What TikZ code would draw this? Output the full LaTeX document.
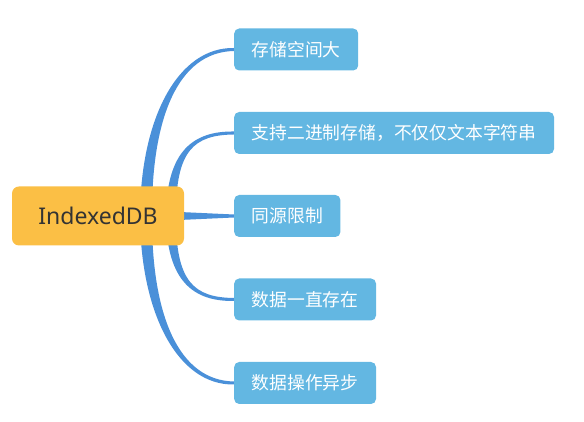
\documentclass[tikz,border=0pt]{standalone}
\usepackage{fontspec}
\usepackage{tikz}
\usetikzlibrary{calc}
\usetikzlibrary{backgrounds}
\newfontfamily\cjk{Noto Sans CJK SC}
\newfontfamily\latinfont{Noto Sans}
\definecolor{rootyellow}{RGB}{251,191,69}
\definecolor{leafblue}{RGB}{99,183,226}
\definecolor{branchblue}{RGB}{74,144,217}
\definecolor{rootgray}{RGB}{51,51,51}

\begin{document}
\begin{tikzpicture}[x=1pt, y=1pt,
        root_style/.style={rectangle,rounded corners=7pt,fill=rootyellow,text=rootgray,minimum width=172pt,minimum height=59pt,font=\latinfont\fontsize{23}{28}\selectfont},
        leaf_style/.style={rectangle,rounded corners=5pt,fill=leafblue,text=white,anchor=west,inner xsep=17.5pt,minimum height=42pt,font=\cjk\fontsize{17.8}{20}\selectfont},
        branch_style/.style={fill=branchblue}]
        \useasboundingbox (0,0) rectangle (584,422);

        \node [root_style](root) at (98,206) {IndexedDB};

        \node [leaf_style](b1) at (234,372.5) {存储空间大};

        \node [leaf_style](b2) at (234,289) {支持二进制存储，不仅仅文本字符串};

        \node [leaf_style](b3) at (234,206) {同源限制};

        \node [leaf_style](b4) at (234,122.5) {数据一直存在};

        \node [leaf_style](b5) at (234,39) {数据操作异步};

        \coordinate (s1) at ($(root.center)+(48,0)$);
        \coordinate (s2) at ($(root.center)+(73,0)$);

        \begin{scope}[on background layer]
        \fill [branch_style] ($(s1)+(-6,0)$) .. controls ($(s1)+(-5.5,98)$) and ($(b1.west)+(-56,2.5)$) .. ($(b1.west)+(0,1.5)$)
            -- ($(b1.west)+(0,-1.5)$) .. controls ($(b1.west)+(-56,-2.5)$) and ($(s1)+(5.5,98)$) .. ($(s1)+(6,0)$) -- cycle;

        \fill [branch_style] ($(s2)+(-5,0)$) .. controls ($(s2)+(-4.5,66)$) and ($(b2.west)+(-40,2)$) .. ($(b2.west)+(0,1.5)$)
            -- ($(b2.west)+(0,-1.5)$) .. controls ($(b2.west)+(-40,-2)$) and ($(s2)+(4.5,66)$) .. ($(s2)+(5,0)$) -- cycle;

        \fill [branch_style] ($(root.center)+(60,5)$) -- ($(b3.west)+(0,1.5)$)
            -- ($(b3.west)+(0,-1.5)$) -- ($(root.center)+(60,-5)$) -- cycle;

        \fill [branch_style] ($(s2)+(-5,0)$) .. controls ($(s2)+(-4.5,-66)$) and ($(b4.west)+(-40,-2)$) .. ($(b4.west)+(0,-1.5)$)
            -- ($(b4.west)+(0,1.5)$) .. controls ($(b4.west)+(-40,2)$) and ($(s2)+(4.5,-66)$) .. ($(s2)+(5,0)$) -- cycle;

        \fill [branch_style] ($(s1)+(-6,0)$) .. controls ($(s1)+(-5.5,-98)$) and ($(b5.west)+(-56,-2.5)$) .. ($(b5.west)+(0,-1.5)$)
            -- ($(b5.west)+(0,1.5)$) .. controls ($(b5.west)+(-56,2.5)$) and ($(s1)+(5.5,-98)$) .. ($(s1)+(6,0)$) -- cycle;
        \end{scope}

        \end{tikzpicture}
\end{document}
